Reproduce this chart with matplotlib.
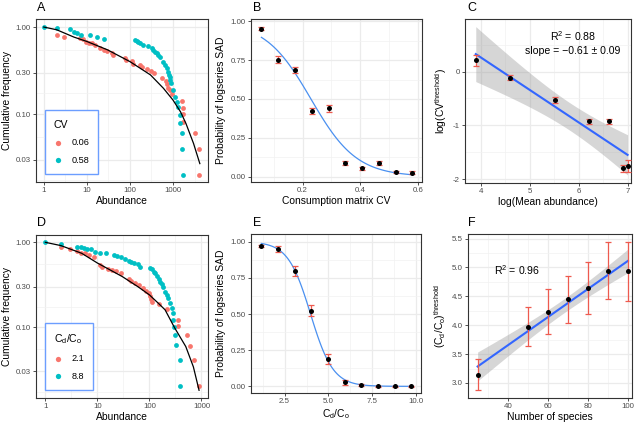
import numpy as np
import matplotlib
matplotlib.use("Agg")
from matplotlib import pyplot as plt

plt.rcParams['font.family'] = ['Liberation Sans', 'DejaVu Sans']
plt.rcParams['mathtext.fontset'] = 'custom'
plt.rcParams['mathtext.rm'] = 'Liberation Sans'
plt.rcParams['mathtext.it'] = 'Liberation Sans:italic'
plt.rcParams['axes.unicode_minus'] = False

# colours
RED = '#F8766D'
CYAN = '#00BFC4'
ERR = '#EE5A4F'

# ---- Panel A: rank abundance, CV groups
a_red_x = [2, 3, 6.9, 8.2, 9.5, 11.3, 13.5, 15.3, 20, 24.8, 28.7, 37.5, 41, 76.5, 81, 109, 119,
           171, 187, 244, 303, 361, 545, 675, 713, 778, 851, 931, 1593, 1680, 1680, 1740, 3250, 4090, 4090]
a_red_y = [0.81, 0.76, 0.74, 0.72, 0.68, 0.66, 0.65, 0.62, 0.57, 0.54, 0.53, 0.50, 0.48, 0.44, 0.42, 0.41, 0.38,
           0.37, 0.35, 0.33, 0.31, 0.30, 0.26, 0.24, 0.22, 0.20, 0.19, 0.17, 0.142, 0.119, 0.10, 0.082, 0.061, 0.040, 0.020]
a_cyan_x = [1, 2, 4, 5, 6, 7.5, 12, 16.8, 25, 130, 143, 156, 171, 197, 268, 319, 348, 381, 417, 456, 499,
            596, 651, 713, 778, 793, 851, 870, 900, 983, 1114, 1216, 1330, 1455, 1455, 1593, 1593, 1740]
a_cyan_y = [1.0, 0.966, 0.94, 0.88, 0.846, 0.82, 0.81, 0.775, 0.73, 0.709, 0.69, 0.667, 0.65, 0.62, 0.60, 0.578,
            0.544, 0.52, 0.50, 0.477, 0.456, 0.40, 0.366, 0.335, 0.306, 0.28, 0.264, 0.246, 0.226, 0.19, 0.158,
            0.139, 0.121, 0.097, 0.078, 0.060, 0.040, 0.020]
a_curve_x = [1, 2, 5, 10, 30, 100, 300, 600, 1000, 1500, 2000, 3000, 4200]
a_curve_y = [1.0, 0.93, 0.767, 0.683, 0.548, 0.401, 0.282, 0.198, 0.145, 0.106, 0.078, 0.046, 0.027]
a_labels = ['0.06', '0.58']

# ---- Panel B: probability of logseries vs consumption CV
b_x = [0.058, 0.116, 0.174, 0.232, 0.29, 0.348, 0.406, 0.464, 0.522, 0.58]
b_p = [0.953, 0.754, 0.685, 0.422, 0.439, 0.090, 0.054, 0.090, 0.028, 0.026]
b_err = [0.012, 0.02, 0.02, 0.02, 0.022, 0.013, 0.01, 0.013, 0.007, 0.007]

# ---- Panel C: threshold CV vs mean abundance
c_x = [3.90, 4.59, 5.51, 6.21, 6.62, 6.90, 7.00]
c_y = [0.205, -0.112, -0.528, -0.925, -0.925, -1.80, -1.757]
c_err = [0.11, 0.05, 0.05, 0.05, 0.05, 0.06, 0.11]

# ---- Panel D: rank abundance, Cd/Co groups
d_red_x = [2, 3, 4.06, 4.84, 5.77, 6.97, 8.67, 11.3, 12.5, 16.3, 19.4, 22.4, 27.9, 40.2, 45.2, 53.8, 62.3,
           75.4, 87.2, 96.6, 104, 107, 112, 150, 216, 360, 360, 533, 599, 724, 902]
d_red_y = [0.873, 0.827, 0.798, 0.756, 0.742, 0.71, 0.678, 0.541, 0.508, 0.486, 0.473, 0.46, 0.44, 0.367, 0.351,
           0.33, 0.315, 0.288, 0.268, 0.256, 0.234, 0.214, 0.20, 0.188, 0.163, 0.122, 0.102, 0.081, 0.060, 0.041, 0.0204]
d_cyan_x = [1, 2, 4.06, 4.84, 5.6, 6.3, 7.5, 9.1, 11.1, 14.9, 20.8, 24.1, 28.7, 33.3, 40.2, 44.5, 51.6, 59.7,
            65.2, 104, 112, 120, 129, 139, 150, 161, 173, 186, 200, 216, 232, 250, 268, 280, 289, 297, 311, 324, 387, 387]
d_cyan_y = [1.0, 0.956, 0.889, 0.873, 0.858, 0.842, 0.827, 0.777, 0.756, 0.742, 0.71, 0.697, 0.667, 0.63, 0.608,
            0.582, 0.566, 0.556, 0.508, 0.494, 0.481, 0.452, 0.432, 0.402, 0.367, 0.344, 0.324, 0.296, 0.263, 0.24,
            0.22, 0.195, 0.17, 0.146, 0.122, 0.10, 0.081, 0.062, 0.041, 0.0204]
d_curve_x = [1, 2, 5, 10, 30, 60, 100, 150, 200, 300, 500, 700, 900]
d_curve_y = [1.0, 0.914, 0.742, 0.57, 0.395, 0.30, 0.24, 0.19, 0.16, 0.10, 0.059, 0.034, 0.018]
d_labels = ['2.1', '8.8']

# ---- Panel E: probability of logseries vs Cd/Co
e_x = [1.17, 2.12, 3.07, 4.0, 4.97, 5.93, 6.88, 7.83, 8.79, 9.74]
e_p = [0.972, 0.949, 0.798, 0.524, 0.189, 0.028, 0.007, 0.0, 0.0, 0.0]
e_err = [0.008, 0.02, 0.035, 0.04, 0.035, 0.018, 0.008, 0.003, 0.003, 0.003]

# ---- Panel F: threshold Cd/Co vs number of species
f_x = [25, 50, 60, 70, 80, 90, 100]
f_y = [3.145, 3.973, 4.233, 4.448, 4.639, 4.946, 4.934]
f_err = [0.27, 0.34, 0.39, 0.41, 0.45, 0.50, 0.51]

T_975_DF5 = 2.5706

TICK_FS = 5.7
LAB_FS = 7.4


def style_axes(ax, xmaj, ymaj, xmin, ymin, xlab, ylab):
    ax.set_xticks(xmaj)
    ax.set_yticks(ymaj)
    ax.set_xticks(xmin, minor=True)
    ax.set_yticks(ymin, minor=True)
    ax.grid(which='major', color='#EBEBEB', lw=0.9, zorder=0)
    ax.grid(which='minor', color='#F2F2F2', lw=0.5, zorder=0)
    ax.set_axisbelow(True)
    for s in ax.spines.values():
        s.set_color('#333333')
        s.set_linewidth(0.8)
    ax.tick_params(which='major', length=2.2, width=0.6, color='#333333',
                   labelsize=TICK_FS, labelcolor='#4D4D4D', pad=1.5)
    ax.tick_params(which='minor', length=0)
    ax.set_xlabel(xlab, fontsize=LAB_FS, labelpad=1.5)
    ax.set_ylabel(ylab, fontsize=LAB_FS, labelpad=3)


def logistic_fit(x, p):
    x = np.asarray(x, float)
    p = np.asarray(p, float)
    X = np.column_stack([np.ones_like(x), x])
    beta = np.zeros(2)
    for _ in range(100):
        eta = X @ beta
        mu = 1 / (1 + np.exp(-eta))
        w = mu * (1 - mu)
        z = eta + (p - mu) / w
        beta = np.linalg.solve(X.T @ (w[:, None] * X), X.T @ (w * z))
    return beta


def lm_band(ax, x, y):
    x = np.asarray(x, float)
    y = np.asarray(y, float)
    slope, icpt = np.polyfit(x, y, 1)
    n = len(x)
    resid = y - (icpt + slope * x)
    s = np.sqrt(np.sum(resid ** 2) / (n - 2))
    sxx = np.sum((x - x.mean()) ** 2)
    xs = np.linspace(x.min(), x.max(), 80)
    fit = icpt + slope * xs
    se = s * np.sqrt(1 / n + (xs - x.mean()) ** 2 / sxx)
    ax.fill_between(xs, fit - T_975_DF5 * se, fit + T_975_DF5 * se,
                    color='#999999', alpha=0.4, lw=0, zorder=1)
    ax.plot(xs, fit, color='#3366FF', lw=1.5, zorder=2)


def points_err(ax, x, y, err):
    ax.errorbar(x, y, yerr=err, fmt='none', ecolor=ERR, elinewidth=0.9,
                capsize=2.3, capthick=0.9, zorder=3)
    ax.scatter(x, y, s=13, color='black', zorder=4, lw=0)


def rank_panel(ax, rx, ry, cx, cy, curx, cury, labels, title, xmax, xticks):
    ax.set_xscale('log')
    ax.set_yscale('log')
    ax.scatter(rx, ry, s=12, color=RED, lw=0, zorder=3, label=labels[0])
    ax.scatter(cx, cy, s=12, color=CYAN, lw=0, zorder=3, label=labels[1])
    ax.plot(curx, cury, color='black', lw=0.9, zorder=4)
    xminor = [10 ** (k + 0.5) for k in range(-1, 4)]
    yminor = [np.sqrt(0.01 * 0.03), np.sqrt(0.03 * 0.1), np.sqrt(0.1 * 0.3), np.sqrt(0.3 * 1.0)]
    style_axes(ax, xticks, [0.03, 0.1, 0.3, 1.0], xminor, yminor,
               'Abundance', 'Cumulative frequency')
    ax.set_xticklabels([str(t) for t in xticks])
    ax.set_yticklabels(['0.03', '0.10', '0.30', '1.00'])
    ax.set_xticks(xminor, minor=True)
    ax.set_yticks(yminor, minor=True)
    ax.set_xticklabels([], minor=True)
    ax.set_yticklabels([], minor=True)
    ax.tick_params(which='minor', length=0)
    ax.set_xlim(0.66, xmax)
    leg = ax.legend(title=title, loc='lower left', bbox_to_anchor=(0.05, 0.05),
                    fontsize=6.6, title_fontsize=7.6, alignment='left', fancybox=False,
                    edgecolor='#6C9EFF', framealpha=1, borderpad=1.0, handletextpad=0.9,
                    labelspacing=0.95, markerscale=1.1, handlelength=1.0, borderaxespad=0)
    leg.get_frame().set_linewidth(1.0)
    leg._legend_box.sep = 6


fig = plt.figure(figsize=(6.4, 4.25), dpi=100)


def add_ax(l, r, t, b):
    return fig.add_axes([l / 640, 1 - b / 425, (r - l) / 640, (b - t) / 425])


axA = add_ax(36, 208, 19, 182)
axB = add_ax(251, 422, 19, 182)
axC = add_ax(465, 631, 19, 183)
axD = add_ax(36, 208, 235, 398)
axE = add_ax(251, 421, 234, 393)
axF = add_ax(468, 632, 234, 398)

# A
rank_panel(axA, a_red_x, a_red_y, a_cyan_x, a_cyan_y, a_curve_x, a_curve_y,
           a_labels, 'CV', 6500, [1, 10, 100, 1000])
axA.set_ylim(0.0166, 1.237)

# D
rank_panel(axD, d_red_x, d_red_y, d_cyan_x, d_cyan_y, d_curve_x, d_curve_y,
           d_labels, r'C$_{\rm d}$/C$_{\rm o}$', 1337, [1, 10, 100, 1000])
axD.set_ylim(0.0146, 1.22)

# B
bb = logistic_fit(b_x, b_p)
bxs = np.linspace(min(b_x), max(b_x), 120)
axB.plot(bxs, 1 / (1 + np.exp(-(bb[0] + bb[1] * bxs))), color='#4A90F0', lw=0.9, zorder=2)
points_err(axB, b_x, b_p, b_err)
style_axes(axB, [0.2, 0.4, 0.6], [0, 0.25, 0.5, 0.75, 1.0], [0.1, 0.3, 0.5],
           [0.125, 0.375, 0.625, 0.875], 'Consumption matrix CV', 'Probability of logseries SAD')
axB.set_yticklabels(['0.00', '0.25', '0.50', '0.75', '1.00'])
axB.set_xlim(0.022, 0.613)
axB.set_ylim(-0.035, 1.015)

# E
eb = logistic_fit(e_x, e_p)
exs = np.linspace(min(e_x), max(e_x), 120)
axE.plot(exs, 1 / (1 + np.exp(-(eb[0] + eb[1] * exs))), color='#4A90F0', lw=0.9, zorder=2)
points_err(axE, e_x, e_p, e_err)
style_axes(axE, [2.5, 5.0, 7.5, 10.0], [0, 0.25, 0.5, 0.75, 1.0], [1.25, 3.75, 6.25, 8.75],
           [0.125, 0.375, 0.625, 0.875], r'C$_{\rm d}$/C$_{\rm o}$', 'Probability of logseries SAD')
axE.set_xticklabels(['2.5', '5.0', '7.5', '10.0'])
axE.set_yticklabels(['0.00', '0.25', '0.50', '0.75', '1.00'])
axE.set_xlim(0.576, 10.29)
axE.set_ylim(-0.046, 1.053)

# C
lm_band(axC, c_x, c_y)
points_err(axC, c_x, c_y, c_err)
style_axes(axC, [4, 5, 6, 7], [-2, -1, 0], [4.5, 5.5, 6.5], [-1.5, -0.5, 0.5],
           'log(Mean abundance)', r'log(CV$^{\rm threshold}$)')
axC.set_xlim(3.68, 7.07)
axC.set_ylim(-2.07, 0.975)
axC.text(5.88, 0.665, r'R$^2$ = 0.88', ha='center', va='center', fontsize=7.6)
axC.text(5.88, 0.385, 'slope = \u22120.61 \u00b1 0.09', ha='center', va='center', fontsize=7.6)

# F
lm_band(axF, f_x, f_y)
points_err(axF, f_x, f_y, f_err)
style_axes(axF, [40, 60, 80, 100], [3.0, 3.5, 4.0, 4.5, 5.0, 5.5], [30, 50, 70, 90],
           [3.25, 3.75, 4.25, 4.75, 5.25], 'Number of species',
           r'(C$_{\rm d}$/C$_{\rm o}$)$^{\rm threshold}$')
axF.set_yticklabels(['3.0', '3.5', '4.0', '4.5', '5.0', '5.5'])
axF.set_xlim(20.2, 102)
axF.set_ylim(2.74, 5.58)
axF.text(44.7, 4.95, r'R$^2$ = 0.96', ha='center', va='center', fontsize=7.6)

# panel letters
for lab, x, y in [('A', 37, 8), ('B', 253, 8), ('C', 467, 8),
                  ('D', 37, 223), ('E', 253, 223), ('F', 468, 223)]:
    fig.text(x / 640, 1 - y / 425, lab, fontsize=9, ha='left', va='center')

fig.savefig('out.png', dpi=100)
